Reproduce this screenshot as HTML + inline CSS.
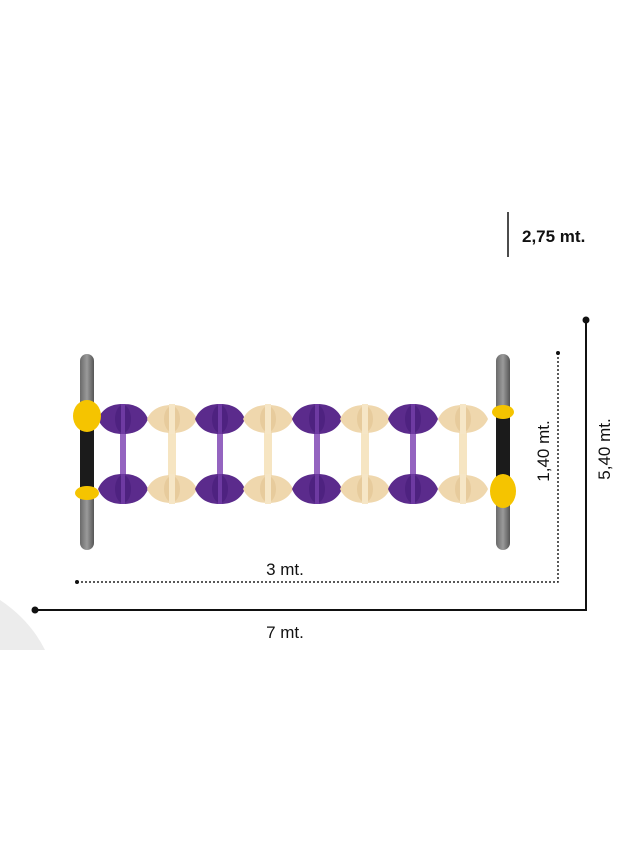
<!DOCTYPE html>
<html><head><style>
html,body{margin:0;padding:0;background:#fff;}
svg{display:block;}
text{font-family:"Liberation Sans",sans-serif;fill:#111;}
</style></head><body>
<svg width="636" height="848" viewBox="0 0 636 848" xmlns="http://www.w3.org/2000/svg">
<defs>
<linearGradient id="post" x1="0" x2="1" y1="0" y2="0">
<stop offset="0" stop-color="#6a6a6a"/><stop offset="0.5" stop-color="#9a9a9a"/><stop offset="1" stop-color="#555"/>
</linearGradient>
<g id="pp"><path d="M-25 0 C-20 -12 -10 -15 0 -15 C10 -15 20 -12 25 0 C20 12 10 15 0 15 C-10 15 -20 12 -25 0 Z" fill="#5b2b8c"/><ellipse cx="0" cy="0" rx="8" ry="14" fill="#4e2280"/><rect x="-2" y="-15" width="4" height="30" fill="#6e3aa2"/></g>
<g id="pb"><path d="M-25 0 C-20 -11 -10 -14 0 -14 C10 -14 20 -11 25 0 C20 11 10 14 0 14 C-10 14 -20 11 -25 0 Z" fill="#efd7ad"/><ellipse cx="0" cy="0" rx="8" ry="13" fill="#e7cb9c"/><rect x="-3" y="-15" width="6" height="30" fill="#f6e6c6"/></g>
</defs>
<path d="M0 600 Q30 620 45 650 L0 650 Z" fill="#ececec"/>
<rect x="80" y="354" width="14" height="196" rx="7" fill="url(#post)"/>
<rect x="80" y="420" width="14" height="68" fill="#1b1b1b"/>
<rect x="496" y="354" width="14" height="196" rx="7" fill="url(#post)"/>
<rect x="496" y="415" width="14" height="68" fill="#1b1b1b"/>
<g>
<rect x="120" y="420" width="6" height="68" fill="#9464c0"/>
<rect x="168" y="420" width="8" height="68" fill="#f6e5c2"/>
<rect x="217" y="420" width="6" height="68" fill="#9464c0"/>
<rect x="264" y="420" width="8" height="68" fill="#f6e5c2"/>
<rect x="314" y="420" width="6" height="68" fill="#9464c0"/>
<rect x="361" y="420" width="8" height="68" fill="#f6e5c2"/>
<rect x="410" y="420" width="6" height="68" fill="#9464c0"/>
<rect x="459" y="420" width="8" height="68" fill="#f6e5c2"/>
</g>
<use href="#pp" x="123" y="419"/><use href="#pb" x="172" y="419"/><use href="#pp" x="220" y="419"/><use href="#pb" x="268" y="419"/>
<use href="#pp" x="317" y="419"/><use href="#pb" x="365" y="419"/><use href="#pp" x="413" y="419"/><use href="#pb" x="463" y="419"/>
<use href="#pp" x="123" y="489"/><use href="#pb" x="172" y="489"/><use href="#pp" x="220" y="489"/><use href="#pb" x="268" y="489"/>
<use href="#pp" x="317" y="489"/><use href="#pb" x="365" y="489"/><use href="#pp" x="413" y="489"/><use href="#pb" x="463" y="489"/>
<ellipse cx="87" cy="416" rx="14" ry="16" fill="#f5c400"/>
<ellipse cx="87" cy="493" rx="12" ry="7" fill="#f5c400"/>
<ellipse cx="503" cy="412" rx="11" ry="7" fill="#f5c400"/>
<ellipse cx="503" cy="491" rx="13" ry="17" fill="#f5c400"/>
<line x1="508" y1="212" x2="508" y2="257" stroke="#111" stroke-width="1.5"/>
<text x="522" y="242" font-size="17" font-weight="bold">2,75 mt.</text>
<polyline points="586,320 586,610 35,610" fill="none" stroke="#111" stroke-width="2"/>
<circle cx="586" cy="320" r="3.5" fill="#111"/><circle cx="35" cy="610" r="3.5" fill="#111"/>
<polyline points="558,353 558,582 77,582" fill="none" stroke="#222" stroke-width="1.5" stroke-dasharray="2,2"/>
<circle cx="558" cy="353" r="2" fill="#111"/><circle cx="77" cy="582" r="2" fill="#111"/>
<text x="285" y="575" font-size="17" text-anchor="middle">3 mt.</text>
<text x="285" y="638" font-size="17" text-anchor="middle">7 mt.</text>
<text transform="translate(549,451) rotate(-90)" font-size="17" text-anchor="middle">1,40 mt.</text>
<text transform="translate(610,449) rotate(-90)" font-size="17" text-anchor="middle">5,40 mt.</text>
</svg>
</body></html>
